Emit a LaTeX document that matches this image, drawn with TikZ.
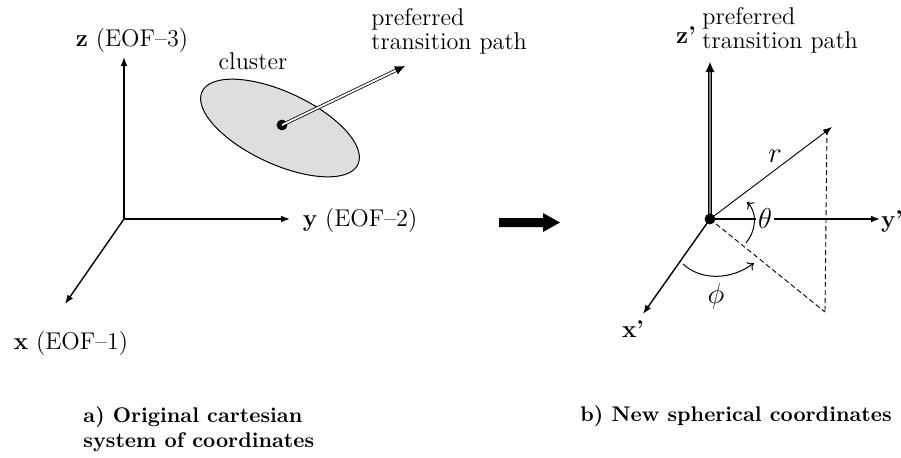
\documentclass[tikz,border=0pt]{standalone}
\usepackage{fontspec}
\usetikzlibrary{arrows.meta}

\tikzset{
  txt/.style={font=\fontsize{12.1}{12}\selectfont, inner sep=0pt},
  mathlbl/.style={font=\fontsize{14}{14}\selectfont, inner sep=0pt},
  caption/.style={font=\fontsize{10.6}{12.5}\selectfont\bfseries, inner sep=0pt, align=left},
  axis/.style={line width=0.7pt, -{Latex[length=4.5pt,width=3.4pt]}},
  thinarrow/.style={line width=0.45pt, -{Latex[length=4.5pt,width=3.4pt]}},
  guide/.style={line width=0.45pt, dashed, dash pattern=on 2.5pt off 1.5pt},
  anglearc/.style={line width=0.5pt, -{To[length=3pt,width=5pt]}},
  pathline/.style={line width=0.4pt, double=white, double distance=0.9pt,
    -{Latex[length=5pt,width=4.6pt]}},
  zpath/.style={line width=0.45pt, double=gray, double distance=0.9pt,
    -{Latex[length=5pt,width=4.6pt]}},
  bigdot/.style={circle, fill=black, inner sep=0pt, minimum size=5.4pt},
}

\begin{document}
\begin{tikzpicture}[x=0.5pt, y=-0.5pt]
  \useasboundingbox (0,0) rectangle (901,457);

  % ---------------- a) cartesian frame ----------------
  \coordinate (O1) at (124,219);
  \coordinate (Z1) at (124,57);
  \coordinate (Y1) at (290,219);
  \coordinate (X1) at (65,304);
  \draw[axis] (O1) -- (Z1);
  \draw[axis] (O1) -- (Y1);
  \draw[axis] (O1) -- (X1);

  \node[txt, anchor=base] (zlab) at (132,46) {\textbf{z} (EOF--3)};
  \node[txt, anchor=base] (ylab) at (360,226) {\textbf{y} (EOF--2)};
  \node[txt, anchor=base] (xlab) at (71,349) {\textbf{x} (EOF--1)};

  % cluster of states
  \coordinate (C) at (280,128);
  \draw[line width=0.5pt, fill=black!13, rotate around={-25:(C)}]
    (C) ellipse [x radius=86, y radius=36];
  \node[txt, anchor=base] (clab) at (253,69) {cluster};

  \node[bigdot] (dot1) at (282,125) {};
  \coordinate (P1) at (405,66);
  \draw[pathline] (dot1.center) -- (P1);
  \node[txt, anchor=base west, align=left] (plab1) at (371,49)
    {preferred\\[0pt]transition path};

  % ---------------- transformation arrow ----------------
  \fill (499,218) -- (543,218) -- (543,213) -- (560,222.5) -- (543,232)
        -- (543,227) -- (499,227) -- cycle;

  % ---------------- b) spherical frame ----------------
  \coordinate (O2) at (710,219);
  \coordinate (Z2) at (710,62);
  \coordinate (Y2) at (880,219);
  \coordinate (X2) at (643,314);
  \coordinate (R) at (832,127);
  \coordinate (Rt) at (827,130);
  \coordinate (F) at (825,312);

  \draw[guide] (O2) -- (F);
  \draw[guide] (Rt) -- (F);
  \draw[axis] (O2) -- (Y2);
  \draw[axis] (O2) -- (X2);
  \draw[thinarrow] (O2) -- (R);
  \draw[zpath] (O2) -- (Z2);
  \node[bigdot] (dot2) at (O2) {};

  \node[mathlbl, fill=white, inner sep=1pt] (theta) at (765,218) {$\theta$};
  \node[mathlbl] (rlab) at (775,156) {$r$};
  \node[mathlbl] (philab) at (716,296) {$\phi$};

  \draw[anglearc] (746,243) .. controls (757,229) and (757,212) .. (747,202);
  \draw[anglearc] (683,264) .. controls (700,280) and (730,281) .. (754,263);

  \node[txt, anchor=base] (zplab) at (686,43) {\textbf{z’}};
  \node[txt, anchor=base west, align=left] (plab2) at (702,48)
    {preferred\\[0pt]transition path};
  \node[txt, anchor=base] (yplab) at (892,227) {\textbf{y’}};
  \node[txt, anchor=base] (xplab) at (633,337) {\textbf{x’}};

  % ---------------- captions ----------------
  \node[caption, anchor=base west] (capa) at (83,447)
    {a) Original cartesian\\system of coordinates};
  \node[caption, anchor=base west] (capb) at (580,421)
    {b) New spherical coordinates};
\end{tikzpicture}
\end{document}
